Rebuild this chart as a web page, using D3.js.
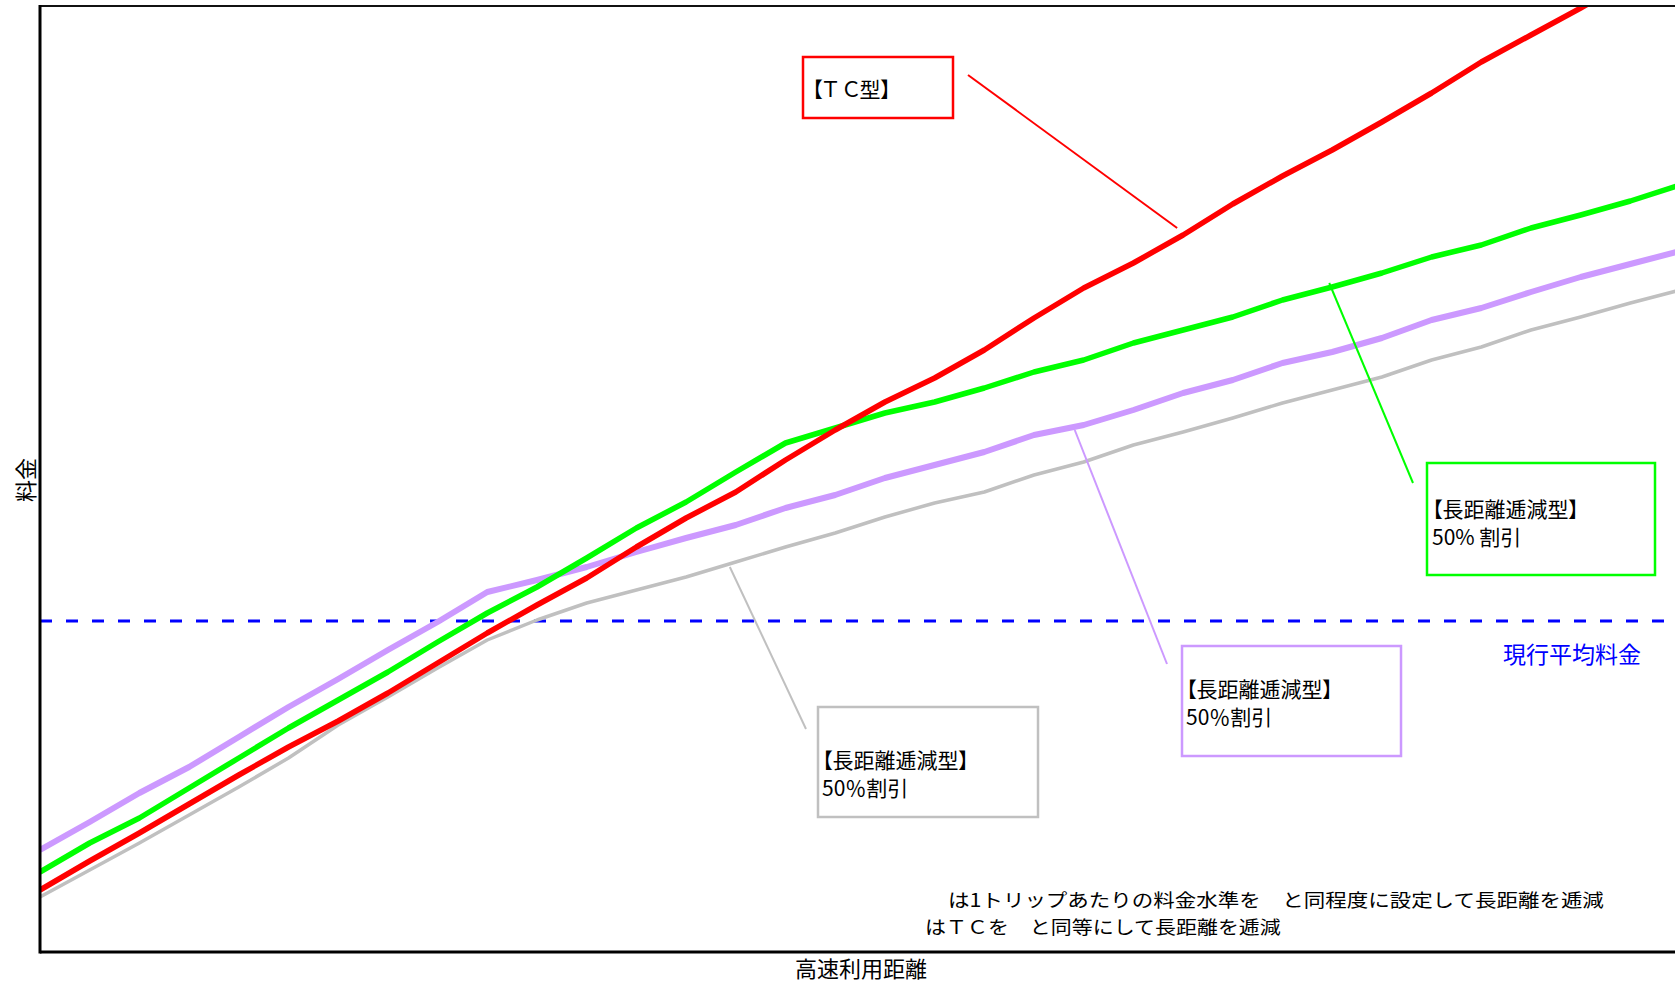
<!DOCTYPE html>
<html>
<head>
<meta charset="utf-8">
<script src="https://cdn.jsdelivr.net/npm/d3@7"></script>
<style>
body { margin:0; background:#fff; }
text { font-family: "Noto Sans CJK JP", "Noto Sans", sans-serif; }
.palt { font-feature-settings: "palt"; }
</style>
</head>
<body>
<svg id="svgFare"></svg>
<script>
// distance steps (km, arbitrary unit) on the x axis
var distance = [0,10,20,30,40,50,60,70,80,90,100,110,120,130,140,150,160,170,180,190,200,
                210,220,230,240,250,260,270,280,290,300,310,320,330];

// fares (arbitrary yen scale)
var fareTC = [620,910,1190,1480,1770,2050,2310,2590,2890,3190,3470,3740,4050,4340,4600,4920,5220,
              5500,5740,6020,6340,6640,6890,7170,7480,7760,8020,8300,8590,8900,9170,9440,9720,10000];
var fareLongGreen = [800,1090,1340,1640,1940,2240,2520,2800,3100,3390,3650,3940,4240,4500,4800,5090,5240,
                     5390,5500,5640,5800,5920,6090,6220,6350,6520,6650,6790,6950,7070,7240,7370,7510,7670];
var fareLongPurple = [1020,1300,1590,1850,2150,2450,2730,3020,3300,3600,3720,3850,4000,4140,4270,4440,4570,
                      4740,4870,5000,5170,5270,5420,5590,5720,5890,6000,6140,6320,6440,6600,6750,6880,7010];
var fareLongGray = [550,820,1090,1370,1650,1940,2270,2550,2840,3120,3320,3490,3620,3750,3900,4050,4190,
                    4350,4490,4600,4770,4900,5070,5200,5340,5490,5620,5750,5920,6050,6220,6350,6490,6620];
var currentAverage = 3310;

var width = 1675, height = 984;
var plotLeft = 40, plotTop = 6, plotBottom = 952;

var svg = d3.select("#svgFare").attr("width", width).attr("height", height);

var x = d3.scaleLinear().domain([0, 330]).range([plotLeft, plotLeft + 33*49.7]);
var y = d3.scaleLinear().domain([0, 9460]).range([plotBottom, plotTop]);

svg.append("clipPath").attr("id", "plotClip")
  .append("rect").attr("x", plotLeft).attr("y", plotTop)
  .attr("width", width - plotLeft).attr("height", plotBottom - plotTop);

var plot = svg.append("g").attr("clip-path", "url(#plotClip)");

// current average fare
plot.append("line")
  .attr("x1", plotLeft).attr("x2", width)
  .attr("y1", y(currentAverage)).attr("y2", y(currentAverage))
  .attr("stroke", "#0000ff").attr("stroke-width", 3)
  .attr("stroke-dasharray", "12,14");

var series = [
  {values: fareLongGray, color: "#c0c0c0", w: 3.5},
  {values: fareLongPurple, color: "#cc99ff", w: 6},
  {values: fareLongGreen, color: "#00ff00", w: 5.5},
  {values: fareTC, color: "#ff0000", w: 5.5}
];

var line = d3.line()
  .x(function(d, i) { return x(distance[i]); })
  .y(function(d) { return y(d); });

series.forEach(function(s) {
  plot.append("path")
    .datum(s.values)
    .attr("d", line)
    .attr("fill", "none")
    .attr("stroke", s.color)
    .attr("stroke-width", s.w)
    .attr("stroke-linejoin", "round");
});

// frame
svg.append("line").attr("x1", plotLeft).attr("x2", width).attr("y1", plotTop).attr("y2", plotTop)
  .attr("stroke", "#111").attr("stroke-width", 2);
svg.append("line").attr("x1", plotLeft).attr("x2", plotLeft).attr("y1", plotTop - 1).attr("y2", plotBottom + 1.5)
  .attr("stroke", "#000").attr("stroke-width", 3);
svg.append("line").attr("x1", plotLeft).attr("x2", width).attr("y1", plotBottom).attr("y2", plotBottom)
  .attr("stroke", "#000").attr("stroke-width", 3);

// callouts: anchor on the series in data units, box in page layout
var callouts = [
  {color: "#ff0000", at: [228.8, 7240], from: [968, 75], box: [803, 57, 150, 61],
   lines: ["【Ｔ Ｃ型】"], tx: 812, ty: 97},
  {color: "#00ff00", at: [259.4, 6690], from: [1413, 483], box: [1427, 463, 228, 112],
   lines: ["【長距離逓減型】", "50% 割引"], tx: 1432, ty: 517},
  {color: "#cc99ff", at: [208.2, 5220], from: [1167, 664], box: [1182, 646, 219, 110],
   lines: ["【長距離逓減型】", "50％割引"], tx: 1186, ty: 697},
  {color: "#c0c0c0", at: [138.8, 3850], from: [806, 729], box: [818, 707, 220, 110],
   lines: ["【長距離逓減型】", "50％割引"], tx: 822, ty: 768}
];

callouts.forEach(function(c) {
  svg.append("line")
    .attr("x1", x(c.at[0])).attr("y1", y(c.at[1]))
    .attr("x2", c.from[0]).attr("y2", c.from[1])
    .attr("stroke", c.color).attr("stroke-width", 2);
  svg.append("rect")
    .attr("x", c.box[0]).attr("y", c.box[1])
    .attr("width", c.box[2]).attr("height", c.box[3])
    .attr("fill", "#fff").attr("stroke", c.color).attr("stroke-width", 2.5);
  c.lines.forEach(function(t, i) {
    svg.append("text").attr("class", "palt")
      .attr("x", c.tx).attr("y", c.ty + i*27.5)
      .attr("font-size", 21).attr("fill", "#000")
      .text(t);
  });
});

svg.append("text")
  .attr("x", 1503).attr("y", 663)
  .attr("font-size", 23).attr("fill", "#0000ff")
  .text("現行平均料金");

// notes: glyphs in the original are wider than tall, so widen them to the measured width
var notes = [
  {text: "は1トリップあたりの料金水準を　と同程度に設定して長距離を逓減", x: 948, y: 907, w: 656},
  {text: "はＴＣを　と同等にして長距離を逓減", x: 925, y: 934, w: 356}
];
notes.forEach(function(n) {
  var t = svg.append("text").attr("x", 0).attr("y", 0).attr("font-size", 18.5).text(n.text);
  var k = n.w / t.node().getComputedTextLength();
  t.attr("transform", "translate(" + n.x + "," + n.y + ")scale(" + k + ",1)");
});

// axis titles
svg.append("text")
  .attr("text-anchor", "middle")
  .attr("x", 861).attr("y", 977)
  .attr("font-size", 22)
  .text("高速利用距離");

svg.append("text")
  .attr("text-anchor", "middle")
  .attr("transform", "translate(34,480)rotate(-90)")
  .attr("font-size", 22)
  .text("料金");
</script>
</body>
</html>
